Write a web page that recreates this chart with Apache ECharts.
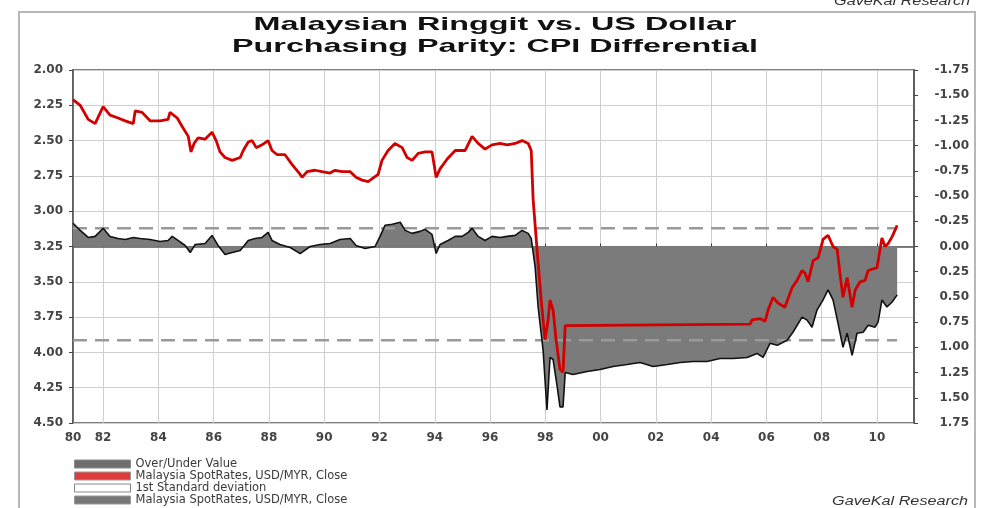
<!DOCTYPE html>
<html>
<head>
<meta charset="utf-8">
<script src="https://cdn.jsdelivr.net/npm/echarts@6/dist/echarts.min.js"></script>
<style>
  html, body { margin: 0; padding: 0; background: #fff; }
  #chart { width: 983px; height: 508px; }
</style>
</head>
<body>
<div id="chart"></div>
<script>
// --- Data ---

// x axis: decimal years, first label sits at the axis start
const xTickYears = [1980.91, 1982, 1984, 1986, 1988, 1990, 1992, 1994, 1996, 1998, 2000, 2002, 2004, 2006, 2008, 2010]
const xMin = 1980.91
const xMax = 2011.34

// USD/MYR spot (left axis, inverted)
const redYears = [
  1980.91, 1981.17, 1981.46, 1981.71, 1982.00, 1982.25, 1982.54, 1982.80, 1983.09, 1983.16,
  1983.41, 1983.70, 1984.06, 1984.35, 1984.42, 1984.68, 1984.86, 1985.08, 1985.18, 1985.29,
  1985.44, 1985.69, 1985.94, 1986.09, 1986.23, 1986.41, 1986.67, 1986.96, 1987.07, 1987.25,
  1987.39, 1987.54, 1987.75, 1987.97, 1988.11, 1988.30, 1988.58, 1988.84, 1989.13, 1989.20,
  1989.38, 1989.67, 1989.92, 1990.21, 1990.39, 1990.65, 1990.94, 1991.15, 1991.37, 1991.59,
  1991.80, 1991.95, 1992.09, 1992.31, 1992.56, 1992.82, 1993.00, 1993.18, 1993.40, 1993.65,
  1993.90, 1994.05, 1994.19, 1994.45, 1994.74, 1995.10, 1995.35, 1995.57, 1995.82, 1996.07,
  1996.36, 1996.62, 1996.91, 1997.16, 1997.38, 1997.49, 1997.56, 1997.70, 1997.85, 1997.99,
  1998.10, 1998.17, 1998.28, 1998.39, 1998.53, 1998.64, 1998.72, 1998.79, 2005.41, 2005.48,
  2005.77, 2005.95, 2006.06, 2006.24, 2006.42, 2006.67, 2006.93, 2007.11, 2007.29, 2007.40,
  2007.51, 2007.69, 2007.87, 2008.05, 2008.23, 2008.41, 2008.56, 2008.66, 2008.77, 2008.92,
  2009.10, 2009.21, 2009.39, 2009.57, 2009.68, 2010.00, 2010.18, 2010.29, 2010.40, 2010.55,
  2010.73,
]
const redValues = [
  2.21, 2.25, 2.35, 2.38, 2.26, 2.32, 2.34, 2.36, 2.38, 2.29,
  2.30, 2.36, 2.36, 2.35, 2.30, 2.34, 2.40, 2.47, 2.58, 2.52,
  2.48, 2.49, 2.44, 2.50, 2.58, 2.62, 2.64, 2.62, 2.57, 2.51,
  2.50, 2.55, 2.53, 2.50, 2.57, 2.60, 2.60, 2.67, 2.74, 2.76,
  2.72, 2.71, 2.72, 2.73, 2.71, 2.72, 2.72, 2.76, 2.78, 2.79,
  2.76, 2.74, 2.64, 2.57, 2.52, 2.55, 2.62, 2.64, 2.59, 2.58,
  2.58, 2.76, 2.70, 2.63, 2.57, 2.57, 2.47, 2.52, 2.56, 2.53,
  2.52, 2.53, 2.52, 2.50, 2.52, 2.57, 2.92, 3.27, 3.63, 3.91,
  3.77, 3.63, 3.70, 3.91, 4.12, 4.14, 3.81, 3.80, 3.80, 3.77,
  3.76, 3.78, 3.70, 3.61, 3.65, 3.68, 3.54, 3.49, 3.42, 3.44,
  3.50, 3.35, 3.33, 3.20, 3.17, 3.25, 3.27, 3.44, 3.61, 3.47,
  3.68, 3.56, 3.50, 3.49, 3.42, 3.40, 3.19, 3.25, 3.23, 3.18,
  3.10,
]

// over/under value (right axis, inverted)
const ouYears = [
  1980.91, 1981.17, 1981.46, 1981.71, 1982.00, 1982.25, 1982.54, 1982.80, 1983.09, 1983.34,
  1983.70, 1984.06, 1984.35, 1984.50, 1984.71, 1984.97, 1985.15, 1985.33, 1985.69, 1985.94,
  1986.16, 1986.41, 1986.67, 1986.96, 1987.25, 1987.50, 1987.75, 1987.97, 1988.11, 1988.40,
  1988.77, 1989.13, 1989.49, 1989.85, 1990.21, 1990.57, 1990.94, 1991.15, 1991.48, 1991.84,
  1992.02, 1992.20, 1992.46, 1992.75, 1992.93, 1993.18, 1993.47, 1993.65, 1993.90, 1994.05,
  1994.19, 1994.48, 1994.74, 1994.99, 1995.21, 1995.35, 1995.57, 1995.82, 1996.07, 1996.36,
  1996.62, 1996.91, 1997.16, 1997.38, 1997.49, 1997.63, 1997.74, 1997.92, 1998.06, 1998.17,
  1998.28, 1998.43, 1998.53, 1998.64, 1998.72, 1999.00, 1999.51, 1999.98, 2000.45, 2000.96,
  2001.43, 2001.90, 2002.41, 2002.88, 2003.35, 2003.85, 2004.32, 2004.79, 2005.30, 2005.66,
  2005.88, 2006.13, 2006.39, 2006.75, 2006.96, 2007.29, 2007.47, 2007.65, 2007.83, 2008.05,
  2008.23, 2008.41, 2008.59, 2008.77, 2008.92, 2009.10, 2009.28, 2009.50, 2009.68, 2009.93,
  2010.04, 2010.18, 2010.36, 2010.55, 2010.73,
]
const ouValues = [
  -0.23, -0.16, -0.09, -0.10, -0.18, -0.10, -0.08, -0.07, -0.09, -0.08,
  -0.07, -0.05, -0.06, -0.10, -0.06, -0.01, 0.06, -0.02, -0.03, -0.11,
  -0.01, 0.08, 0.06, 0.04, -0.06, -0.08, -0.09, -0.14, -0.06, -0.02,
  0.01, 0.07, 0.00, -0.02, -0.03, -0.07, -0.08, -0.01, 0.02, 0.00,
  -0.10, -0.21, -0.22, -0.24, -0.16, -0.13, -0.15, -0.17, -0.12, 0.07,
  -0.02, -0.06, -0.10, -0.10, -0.14, -0.18, -0.10, -0.06, -0.10, -0.09,
  -0.10, -0.11, -0.16, -0.13, -0.08, 0.20, 0.60, 1.03, 1.62, 1.10,
  1.12, 1.39, 1.59, 1.59, 1.25, 1.27, 1.24, 1.22, 1.19, 1.17,
  1.15, 1.19, 1.17, 1.15, 1.14, 1.14, 1.11, 1.11, 1.10, 1.06,
  1.10, 0.96, 0.98, 0.93, 0.85, 0.70, 0.73, 0.80, 0.63, 0.53,
  0.43, 0.53, 0.76, 1.00, 0.86, 1.08, 0.86, 0.85, 0.78, 0.80,
  0.75, 0.53, 0.60, 0.55, 0.48,
]

// 1st standard deviation band (right axis)
const stdDevValues = [-0.18, 0.93]

const ouName = 'Over/Under Value'
const redName = 'Malaysia SpotRates, USD/MYR, Close'
const stdName = '1st Standard deviation'
const blackName = 'Malaysia SpotRates, USD/MYR, Close ' // same label, kept distinct for the legend

const redPairs = redYears.map((y, i) => [y, redValues[i]])
const ouPairs = ouYears.map((y, i) => [y, ouValues[i]])
const stdStart = ouYears[0]
const stdEnd = ouYears[ouYears.length - 1]

// --- Chart ---
const chart = echarts.init(document.getElementById('chart'))

const axisFont = {
  fontFamily: 'DejaVu Sans',
  fontWeight: 'bold',
  fontSize: 12,
  color: '#444',
}

const stdSeries = stdDevValues.map((v) => ({
  name: stdName,
  type: 'line',
  yAxisIndex: 1,
  data: [[stdStart, v], [stdEnd, v]],
  symbol: 'none',
  lineStyle: { color: '#9a9a9a', width: 2.5, type: [14, 8] },
  z: 3,
}))

const option = {
  animation: false,
  backgroundColor: '#fff',
  grid: {
    left: 73,
    right: 69,
    top: 70,
    bottom: 85,
    show: true,
    borderColor: '#555',
    borderWidth: 1.5,
  },
  graphic: [
    {
      type: 'rect',
      shape: { x: 19, y: 12, width: 956, height: 520 },
      style: { fill: 'none', stroke: '#b8b8b8', lineWidth: 2 },
      z: -10,
      silent: true,
    },
    {
      type: 'text',
      x: 495,
      y: 25,
      scaleX: 1.7,
      style: {
        text: 'Malaysian Ringgit vs. US Dollar',
        font: 'bold 19px "Liberation Sans", Arial, sans-serif',
        fill: '#111',
        textAlign: 'center',
        textVerticalAlign: 'middle',
      },
    },
    {
      type: 'text',
      x: 495,
      y: 47,
      scaleX: 1.7,
      style: {
        text: 'Purchasing Parity: CPI Differential',
        font: 'bold 19px "Liberation Sans", Arial, sans-serif',
        fill: '#111',
        textAlign: 'center',
        textVerticalAlign: 'middle',
      },
    },
    {
      type: 'text',
      x: 970,
      y: 2,
      scaleX: 1.35,
      style: {
        text: 'GaveKal Research',
        font: 'italic 12px "Liberation Sans", Arial, sans-serif',
        fill: '#333',
        textAlign: 'right',
        textVerticalAlign: 'middle',
      },
    },
    {
      type: 'text',
      x: 968,
      y: 502,
      scaleX: 1.35,
      style: {
        text: 'GaveKal Research',
        font: 'italic 12px "Liberation Sans", Arial, sans-serif',
        fill: '#333',
        textAlign: 'right',
        textVerticalAlign: 'middle',
      },
    },
  ],
  legend: {
    orient: 'vertical',
    left: 74,
    top: 458,
    padding: 0,
    itemGap: 0,
    itemWidth: 56,
    itemHeight: 8,
    selectedMode: false,
    textStyle: {
      fontFamily: 'DejaVu Sans',
      fontSize: 11.5,
      lineHeight: 10,
      color: '#3a3a3a',
    },
    data: [
      { name: ouName, icon: 'rect', itemStyle: { color: '#6e6e6e', borderColor: '#8a8a8a', borderWidth: 1 } },
      { name: redName, icon: 'rect', itemStyle: { color: '#e03a3a', borderColor: '#999', borderWidth: 1 } },
      { name: stdName, icon: 'rect', itemStyle: { color: '#fff', borderColor: '#888', borderWidth: 1 } },
      { name: blackName, icon: 'rect', itemStyle: { color: '#777', borderColor: '#999', borderWidth: 1 } },
    ],
  },
  xAxis: {
    type: 'value',
    min: xMin,
    max: xMax,
    axisLine: { show: true, lineStyle: { color: '#555', width: 1.5 } },
    axisTick: {
      show: true,
      inside: true,
      length: 3,
      customValues: xTickYears,
      lineStyle: { color: '#333' },
    },
    axisLabel: {
      customValues: xTickYears,
      formatter: (v) => String(Math.floor(v) % 100).padStart(2, '0'),
      margin: 9,
      ...axisFont,
    },
    splitLine: { show: true, lineStyle: { color: '#cfcfcf', width: 1 } },
  },
  yAxis: [
    {
      type: 'value',
      position: 'left',
      inverse: true,
      min: 2,
      max: 4.5,
      interval: 0.25,
      axisLine: { show: true, lineStyle: { color: '#555', width: 1.5 } },
      axisTick: { show: true, length: 4, lineStyle: { color: '#444' } },
      axisLabel: { formatter: (v) => v.toFixed(2), margin: 10, ...axisFont },
      splitLine: { show: true, lineStyle: { color: '#cfcfcf', width: 1 } },
    },
    {
      type: 'value',
      position: 'right',
      inverse: true,
      min: -1.75,
      max: 1.75,
      interval: 0.25,
      axisLine: { show: true, lineStyle: { color: '#555', width: 1.5 } },
      axisTick: { show: true, length: 4, lineStyle: { color: '#444' } },
      axisLabel: {
        formatter: (v) => v.toFixed(2),
        align: 'right',
        margin: 55,
        ...axisFont,
      },
      splitLine: { show: false },
    },
  ],
  series: [
    {
      name: ouName,
      type: 'line',
      yAxisIndex: 1,
      data: ouPairs,
      symbol: 'none',
      lineStyle: { width: 0 },
      areaStyle: { color: '#7b7b7b', opacity: 1, origin: 0 },
      z: 2,
    },
    ...stdSeries,
    {
      name: blackName,
      type: 'line',
      yAxisIndex: 1,
      data: ouPairs,
      symbol: 'none',
      lineStyle: { color: '#111', width: 1.6 },
      z: 4,
    },
    {
      name: redName,
      type: 'line',
      yAxisIndex: 0,
      data: redPairs,
      symbol: 'none',
      lineStyle: { color: '#d40000', width: 2.8 },
      z: 5,
    },
  ],
}

chart.setOption(option)
</script>
</body>
</html>
